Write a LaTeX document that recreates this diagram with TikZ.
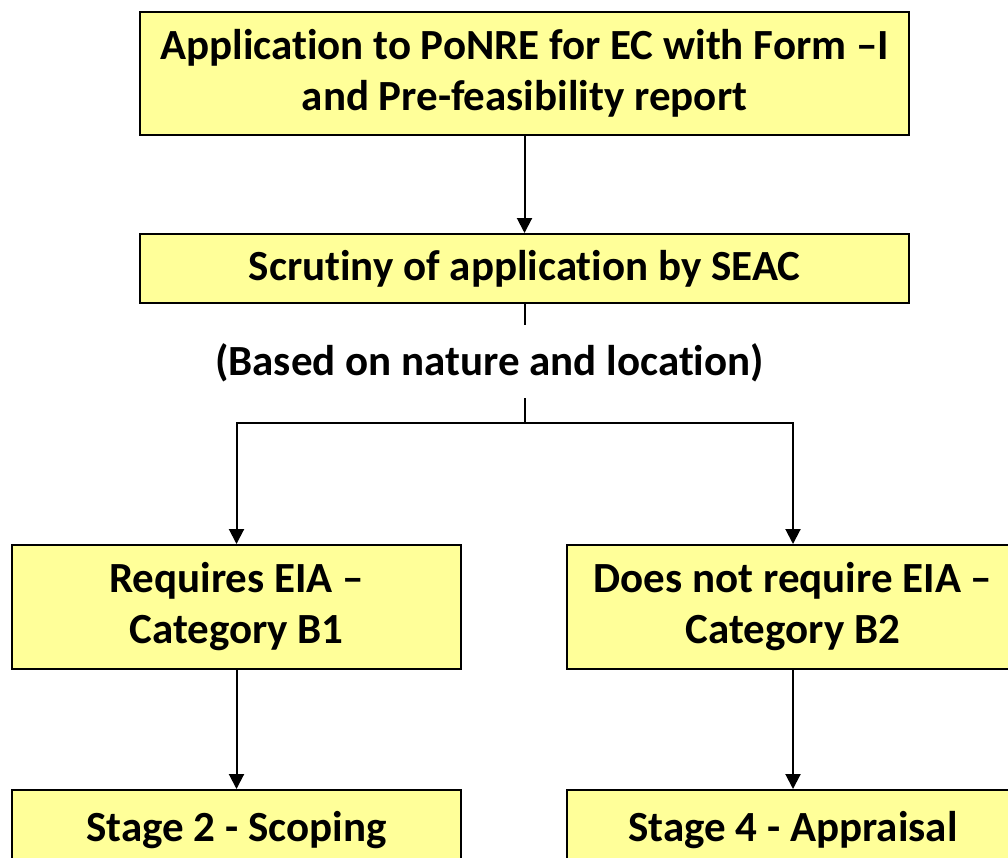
\documentclass[tikz,border=0pt]{standalone}
\usepackage{fontspec}
\setmainfont{Carlito}[Ligatures=NoCommon]
\usetikzlibrary{positioning,arrows.meta}
\definecolor{boxyellow}{RGB}{255,255,153}
\tikzset{
	stepbox/.style={draw=black, line width=2pt, fill=boxyellow, align=center,
		font=\fontsize{43}{51}\selectfont\bfseries, inner sep=0pt},
	flow/.style={line width=2pt, -{Triangle[length=15pt,width=15pt]}},
}

\begin{document}
\begin{tikzpicture}[x=1pt, y=-1pt]
	\useasboundingbox (0,0) rectangle (1008,857);
	\clip (0,0) rectangle (1008,857);

	\node[stepbox, minimum width=769pt, minimum height=123pt] (app) at (524.5,73.5)
		{Application to PoNRE for EC with Form –I\\and Pre-feasibility report};
	\node[stepbox, minimum width=769pt, minimum height=69pt, below=97pt of app] (scrut)
		{Scrutiny of application by SEAC};
	\node[font=\fontsize{43}{51}\selectfont\bfseries] (basis) at (489.5,363)
		{(Based on nature and location)};

	\coordinate (gap1) at (524.5,325);
	\coordinate (gap2) at (524.5,398);
	\coordinate (split) at (524.5,423);

	\node[stepbox, minimum width=449pt, minimum height=124pt] (eia) at (236.5,607)
		{Requires EIA –\\Category B1};
	\node[stepbox, minimum width=452pt, minimum height=124pt] (noeia) at (793,607)
		{Does not require EIA –\\Category B2};
	\node[stepbox, minimum width=449pt, minimum height=80pt, below=119pt of eia] (scope)
		{Stage 2 - Scoping};
	\node[stepbox, minimum width=452pt, minimum height=80pt, below=119pt of noeia] (apprais)
		{Stage 4 - Appraisal};

	\draw[flow] (app) -- (scrut);
	\draw[line width=2pt] (scrut) -- (gap1);
	\draw[line width=2pt] (gap2) -- (split);
	\draw[flow] (split) -| (eia);
	\draw[flow] (split) -| (noeia);
	\draw[flow] (eia) -- (scope);
	\draw[flow] (noeia) -- (apprais);
\end{tikzpicture}
\end{document}
